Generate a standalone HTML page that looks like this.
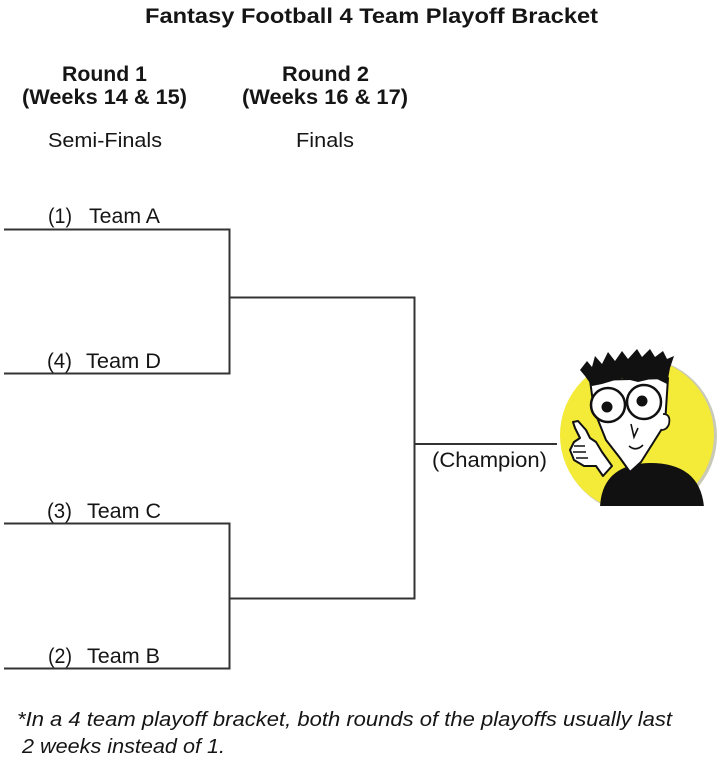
<!DOCTYPE html>
<html>
<head>
<meta charset="utf-8">
<style>
html,body{margin:0;padding:0;background:#fff;}
svg{display:block;}
text{font-family:"Liberation Sans",Arial,sans-serif;fill:#151515;}
</style>
</head>
<body>
<svg width="720" height="762" viewBox="0 0 720 762" xmlns="http://www.w3.org/2000/svg">
  <!-- Title -->
  <text x="145" y="23" font-size="21" font-weight="bold" textLength="453" lengthAdjust="spacingAndGlyphs">Fantasy Football 4 Team Playoff Bracket</text>

  <!-- Column headers -->
  <text x="62" y="81" font-size="21" font-weight="bold" textLength="85" lengthAdjust="spacingAndGlyphs">Round 1</text>
  <text x="22" y="104" font-size="21" font-weight="bold" textLength="165" lengthAdjust="spacingAndGlyphs">(Weeks 14 &amp; 15)</text>
  <text x="48" y="147" font-size="20.5" textLength="114" lengthAdjust="spacingAndGlyphs">Semi-Finals</text>

  <text x="282" y="81" font-size="21" font-weight="bold" textLength="87" lengthAdjust="spacingAndGlyphs">Round 2</text>
  <text x="242" y="104" font-size="21" font-weight="bold" textLength="166" lengthAdjust="spacingAndGlyphs">(Weeks 16 &amp; 17)</text>
  <text x="296" y="147" font-size="20.5" textLength="58" lengthAdjust="spacingAndGlyphs">Finals</text>

  <!-- Bracket lines -->
  <g stroke="#333" stroke-width="2" fill="none" stroke-linecap="square">
    <line x1="5" y1="229.5" x2="229.5" y2="229.5"/>
    <line x1="229.5" y1="229.5" x2="229.5" y2="373.5"/>
    <line x1="5" y1="373.5" x2="229.5" y2="373.5"/>
    <line x1="229.5" y1="297.5" x2="414.5" y2="297.5"/>
    <line x1="414.5" y1="297.5" x2="414.5" y2="598.5"/>
    <line x1="229.5" y1="598.5" x2="414.5" y2="598.5"/>
    <line x1="5" y1="523.5" x2="229.5" y2="523.5"/>
    <line x1="229.5" y1="523.5" x2="229.5" y2="668.5"/>
    <line x1="5" y1="668.5" x2="229.5" y2="668.5"/>
    <line x1="414.5" y1="444" x2="556" y2="444"/>
  </g>

  <!-- Team labels -->
  <text x="48" y="223" font-size="21" textLength="24" lengthAdjust="spacingAndGlyphs">(1)</text>
  <text x="89" y="223" font-size="21" textLength="71" lengthAdjust="spacingAndGlyphs">Team A</text>
  <text x="47" y="368" font-size="21" textLength="25" lengthAdjust="spacingAndGlyphs">(4)</text>
  <text x="86" y="368" font-size="21" textLength="75" lengthAdjust="spacingAndGlyphs">Team D</text>
  <text x="47" y="518" font-size="21" textLength="25" lengthAdjust="spacingAndGlyphs">(3)</text>
  <text x="87" y="518" font-size="21" textLength="74" lengthAdjust="spacingAndGlyphs">Team C</text>
  <text x="48" y="663" font-size="21" textLength="24" lengthAdjust="spacingAndGlyphs">(2)</text>
  <text x="87" y="663" font-size="21" textLength="73" lengthAdjust="spacingAndGlyphs">Team B</text>

  <text x="432" y="467" font-size="21" textLength="115" lengthAdjust="spacingAndGlyphs">(Champion)</text>

  <!-- Cartoon -->
  <defs>
    <clipPath id="cl"><rect x="540" y="340" width="180" height="166"/></clipPath>
  </defs>
  <g clip-path="url(#cl)">
    <circle cx="639" cy="436" r="78" fill="#c9c9b8"/>
    <circle cx="637" cy="435" r="77" fill="#f4ea38"/>
    <!-- shirt -->
    <path d="M600,507 Q602,464 650,463 Q700,463 704,507 Z" fill="#111"/>
  </g>
  <!-- arm/hand -->
  <path d="M603,476 L596,466 L584,466 L574,460 L570,450 L574,442 L580,438 L575,428 L573,422 L578,421 L586,430 L590,438 L596,442 L602,452 L612,466 Z" fill="#fff" stroke="#111" stroke-width="2" stroke-linejoin="round"/>
  <path d="M574,446 L585,446 M573,452 L586,452 M576,458 L588,458" stroke="#111" stroke-width="1.6" fill="none"/>
  <!-- face -->
  <path d="M590,380 L668,378 L665,424 L641,462 L630,472 L620,458 L606,440 L594,410 Z" fill="#fff" stroke="#111" stroke-width="2" stroke-linejoin="round"/>
  <!-- ear -->
  <path d="M663,414 Q671,414 669,424 Q667,430 661,430" fill="#fff" stroke="#111" stroke-width="1.8"/>
  <!-- hair -->
  <path d="M580,370 L587,361 L592,367 L595,356 L602,364 L608,352 L615,361 L622,351 L628,359 L637,349 L642,357 L650,349 L655,357 L663,351 L667,359 L674,356 L670,368 L667,384 L655,378 L638,382 L622,378 L602,384 L592,386 L585,376 Z" fill="#111"/>
  <!-- glasses -->
  <circle cx="608" cy="405" r="17" fill="#fff" stroke="#111" stroke-width="2.5"/>
  <circle cx="644" cy="402" r="17" fill="#fff" stroke="#111" stroke-width="2.5"/>
  <circle cx="607" cy="407" r="5.5" fill="#111"/>
  <circle cx="642" cy="401" r="5.5" fill="#111"/>
  <!-- nose & mouth -->
  <path d="M631,424 L634,437 L638,428" stroke="#111" stroke-width="1.6" fill="none"/>
  <path d="M629,446 Q636,452 643,445" stroke="#111" stroke-width="1.6" fill="none"/>

  <!-- Footnote -->
  <text x="17" y="726" font-size="20" font-style="italic" textLength="655" lengthAdjust="spacingAndGlyphs">*In a 4 team playoff bracket, both rounds of the playoffs usually last</text>
  <text x="22" y="753" font-size="20" font-style="italic" textLength="203" lengthAdjust="spacingAndGlyphs">2 weeks instead of 1.</text>
</svg>
</body>
</html>
